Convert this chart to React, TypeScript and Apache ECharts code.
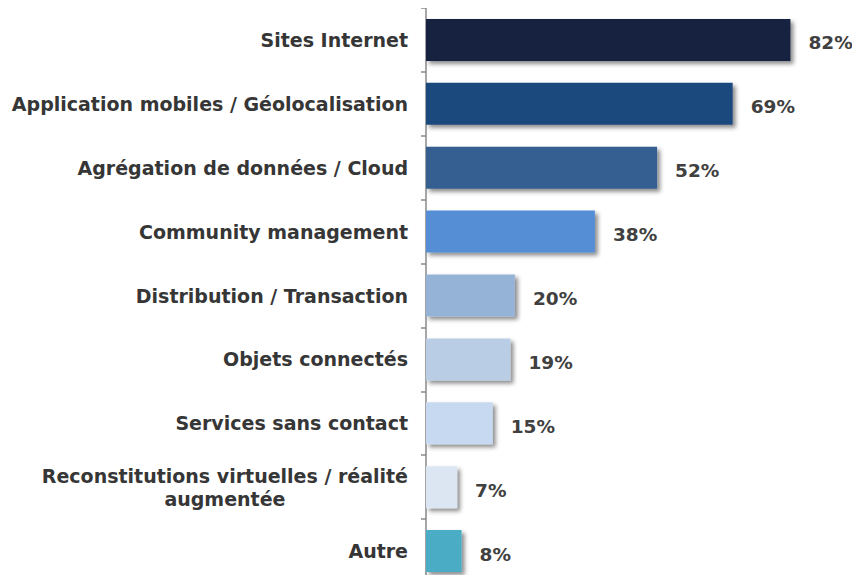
import React, { useEffect, useRef } from "react";
import * as echarts from "echarts";

const categories = [
  "Sites Internet",
  "Application mobiles / Géolocalisation",
  "Agrégation de données / Cloud",
  "Community management",
  "Distribution / Transaction",
  "Objets connectés",
  "Services sans contact",
  "Reconstitutions virtuelles / réalité\naugmentée",
  "Autre",
];
const values = [82, 69, 52, 38, 20, 19, 15, 7, 8];
const colors = [
  "#12243F",
  "#1F497D",
  "#355F91",
  "#558ED5",
  "#95B3D7",
  "#B9CDE5",
  "#C6D9F1",
  "#DCE6F2",
  "#4BACC6",
];

const FONT = "'DejaVu Sans', sans-serif";

export default function App() {
  const ref = useRef<HTMLDivElement>(null);
  useEffect(() => {
    if (!ref.current) return;
    const chart = echarts.init(ref.current, null, { renderer: "svg" });
    chart.setOption({
      animation: false,
      grid: { left: 426, right: 34, top: 8, bottom: -1, containLabel: false },
      xAxis: {
        type: "value",
        min: 0,
        max: 90,
        show: false,
      },
      yAxis: {
        type: "category",
        inverse: true,
        data: categories,
        axisLine: { show: true, lineStyle: { color: "#888888", width: 1.5 } },
        axisTick: { show: true, length: 5, lineStyle: { color: "#888888", width: 1.5 } },
        axisLabel: {
          margin: 18,
          formatter: (v: string) =>
            v
              .split("\n")
              .map((l) => "{c|" + l + "}")
              .join("\n"),
          rich: {
            c: {
              align: "center",
              fontFamily: FONT,
              fontWeight: "bold",
              fontSize: 19,
              color: "#363636",
              lineHeight: 23,
            },
          },
        },
        splitLine: { show: false },
      },
      series: [
        {
          type: "bar",
          barWidth: 42,
          data: values.map((v, i) => ({
            value: v,
            itemStyle: {
              color: colors[i],
              shadowColor: "rgba(0,0,0,0.45)",
              shadowBlur: 4,
              shadowOffsetX: 3,
              shadowOffsetY: 3,
            },
          })),
          label: {
            show: true,
            position: "right",
            distance: 18,
            offset: [0, 3],
            formatter: "{c}%",
            fontFamily: FONT,
            fontWeight: "bold",
            fontSize: 18.5,
            color: "#404040",
          },
        },
      ],
    });
    return () => chart.dispose();
  }, []);
  return <div ref={ref} style={{ width: 860, height: 583, margin: -8 }} />;
}
